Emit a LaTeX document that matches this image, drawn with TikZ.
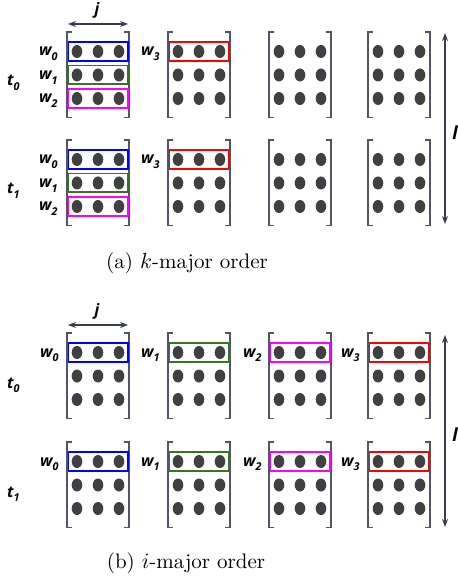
\documentclass[tikz,border=0pt]{standalone}
\usepackage{fontspec}
\newfontfamily\labfont{Open Sans}
\usetikzlibrary{arrows.meta,shapes.geometric}
\definecolor{dotgray}{RGB}{64,64,64}
\definecolor{brk}{RGB}{80,86,102}
\definecolor{arr}{RGB}{55,62,80}
\definecolor{wblue}{RGB}{0,0,255}
\definecolor{wgreen}{RGB}{56,118,29}
\definecolor{wmag}{RGB}{255,0,255}
\definecolor{wred}{RGB}{255,0,0}
\newcommand{\wl}[2]{{\labfont\bfseries\itshape #1\raisebox{-2.4pt}{\fontsize{5.4}{6}\selectfont #2}}}
\newcommand{\drawmat}[3]{%
  \foreach \ri/\dy in {1/19.5,2/43,3/66.5}{%
    \foreach \ci/\dx in {1/10,2/31,3/52}{%
      \node[dotnode] (#1-\ri-\ci) at (#2+\dx,#3+\dy) {};}}
  \draw[brkline] (#2+5,#3) -- (#2,#3) -- (#2,#3+85.5) -- (#2+5,#3+85.5);
  \draw[brkline] (#2+57,#3) -- (#2+62,#3) -- (#2+62,#3+85.5) -- (#2+57,#3+85.5);
}
\begin{document}
\begin{tikzpicture}[x=0.5pt,y=-0.5pt,
  dotnode/.style={ellipse,fill=dotgray,minimum width=5.3pt,minimum height=6.5pt,inner sep=0pt,outer sep=0pt},
  brkline/.style={draw=brk,line width=0.75pt},
  wbox/.style={rectangle,line width=0.9pt,minimum width=29.6pt,minimum height=9.4pt,inner sep=0pt},
  lab/.style={inner sep=0pt,font=\fontsize{7.9}{9}\selectfont},
  dimarrow/.style={draw=arr,line width=0.6pt,{Stealth[length=4pt,width=3pt]}-{Stealth[length=4pt,width=3pt]}},
  capstyle/.style={inner sep=0pt,font=\fontsize{10.5}{12}\selectfont}]
\useasboundingbox (0,0) rectangle (458,582);
% ---------- panel (a)
\drawmat{a11}{67}{32}
\drawmat{a12}{168}{32}
\drawmat{a13}{269}{32}
\drawmat{a14}{368}{32}
\drawmat{a21}{67}{140}
\drawmat{a22}{168}{140}
\drawmat{a23}{269}{140}
\drawmat{a24}{368}{140}
\node[wbox,draw=wblue] (ab10) at (a11-1-2) {};
\node[wbox,draw=wgreen] (ab11) at (a11-2-2) {};
\node[wbox,draw=wmag] (ab12) at (a11-3-2) {};
\node[wbox,draw=wred] (ab13) at (a12-1-2) {};
\node[wbox,draw=wblue] (ab20) at (a21-1-2) {};
\node[wbox,draw=wgreen] (ab21) at (a21-2-2) {};
\node[wbox,draw=wmag] (ab22) at (a21-3-2) {};
\node[wbox,draw=wred] (ab23) at (a22-1-2) {};
\node[lab,anchor=base east] (alw10) at (58,56) {\wl{w}{0}};
\node[lab,anchor=base east] (alw11) at (58,79.5) {\wl{w}{1}};
\node[lab,anchor=base east] (alw12) at (58,103) {\wl{w}{2}};
\node[lab,anchor=base east] (alw13) at (160,56) {\wl{w}{3}};
\node[lab,anchor=base east] (alw20) at (58,164) {\wl{w}{0}};
\node[lab,anchor=base east] (alw21) at (58,187.5) {\wl{w}{1}};
\node[lab,anchor=base east] (alw22) at (58,211) {\wl{w}{2}};
\node[lab,anchor=base east] (alw23) at (160,164) {\wl{w}{3}};
\node[lab,anchor=base east] (alt0) at (20,86) {\wl{t}{0}};
\node[lab,anchor=base east] (alt1) at (20,194) {\wl{t}{1}};
\node[lab] (aj) at (97,10) {\labfont\bfseries\itshape j};
\coordinate (ajl) at (68,24);
\coordinate (ajr) at (128,24);
\draw[dimarrow] (ajl) -- (ajr);
\coordinate (alt) at (445,33);
\coordinate (alb) at (445,224);
\draw[dimarrow] (alt) -- (alb);
\node[lab,anchor=west,font=\fontsize{9}{10}\selectfont] (all) at (452,133) {\labfont\bfseries\itshape l};
\node[capstyle] (capa) at (187,263) {(a) $k$-major order};
% ---------- panel (b)
\drawmat{b11}{67}{333}
\drawmat{b12}{168}{333}
\drawmat{b13}{269}{333}
\drawmat{b14}{368}{333}
\drawmat{b21}{67}{442}
\drawmat{b22}{168}{442}
\drawmat{b23}{269}{442}
\drawmat{b24}{368}{442}
\node[wbox,draw=wblue] (bb10) at (b11-1-2) {};
\node[wbox,draw=wgreen] (bb11) at (b12-1-2) {};
\node[wbox,draw=wmag] (bb12) at (b13-1-2) {};
\node[wbox,draw=wred] (bb13) at (b14-1-2) {};
\node[wbox,draw=wblue] (bb20) at (b21-1-2) {};
\node[wbox,draw=wgreen] (bb21) at (b22-1-2) {};
\node[wbox,draw=wmag] (bb22) at (b23-1-2) {};
\node[wbox,draw=wred] (bb23) at (b24-1-2) {};
\node[lab,anchor=base east] (blw10) at (59,357) {\wl{w}{0}};
\node[lab,anchor=base east] (blw11) at (160,357) {\wl{w}{1}};
\node[lab,anchor=base east] (blw12) at (262,357) {\wl{w}{2}};
\node[lab,anchor=base east] (blw13) at (360,357) {\wl{w}{3}};
\node[lab,anchor=base east] (blw20) at (59,466) {\wl{w}{0}};
\node[lab,anchor=base east] (blw21) at (160,466) {\wl{w}{1}};
\node[lab,anchor=base east] (blw22) at (262,466) {\wl{w}{2}};
\node[lab,anchor=base east] (blw23) at (360,466) {\wl{w}{3}};
\node[lab,anchor=base east] (blt0) at (20,388) {\wl{t}{0}};
\node[lab,anchor=base east] (blt1) at (20,497) {\wl{t}{1}};
\node[lab] (bj) at (97,311) {\labfont\bfseries\itshape j};
\coordinate (bjl) at (68,325);
\coordinate (bjr) at (128,325);
\draw[dimarrow] (bjl) -- (bjr);
\coordinate (blt) at (445,335);
\coordinate (blb) at (445,527);
\draw[dimarrow] (blt) -- (blb);
\node[lab,anchor=west,font=\fontsize{9}{10}\selectfont] (bll) at (452,435) {\labfont\bfseries\itshape l};
\node[capstyle] (capb) at (186,563) {(b) $i$-major order};
\end{tikzpicture}
\end{document}
